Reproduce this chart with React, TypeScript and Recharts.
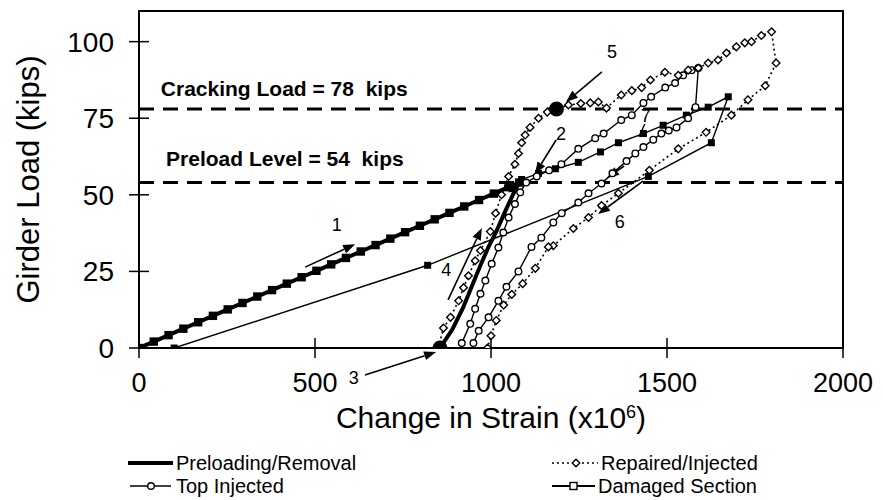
import React from "react";
import {
  ComposedChart,
  Scatter,
  XAxis,
  YAxis,
  ReferenceLine,
  ReferenceArea,
  ReferenceDot,
  Legend,
  Label,
} from "recharts";

const FONT = "'Liberation Sans', Arial, Helvetica, sans-serif";

const xTicks = [0, 500, 1000, 1500, 2000];
const yTicks = [0, 25, 50, 75, 100];

// preloading up to 54 kips (markers on the loading branch)
const preloadStrain = [0, 42, 84, 126, 168, 210, 252, 294, 336, 378, 420, 462, 504, 546, 588, 630, 672, 714, 756, 798, 840, 882, 924, 966, 1008, 1050, 1080];
const preloadLoad = [0, 2.1, 4.2, 6.3, 8.4, 10.5, 12.6, 14.7, 16.8, 18.9, 21, 23.1, 25.2, 27.3, 29.4, 31.5, 33.6, 35.7, 37.8, 39.9, 42, 44.1, 46.2, 48.3, 50.4, 52.5, 54];

// removal of preload
const removalStrain = [1080, 1062, 1040, 1015, 993, 970, 945, 920, 890, 855];
const removalLoad = [54, 50, 44.5, 38, 33, 27, 20, 13, 6, 0];

// repaired / injected
const repairedStrain = [850, 865, 885, 908, 922, 936, 955, 970, 998, 1013, 1030, 1050, 1068, 1078, 1087, 1097, 1111, 1135, 1160, 1186, 1220, 1255, 1282, 1305, 1328, 1370, 1400, 1428, 1453, 1494, 1532, 1560, 1589, 1617, 1645, 1669, 1697, 1721, 1740, 1768, 1797, 1810, 1779, 1730, 1683, 1611, 1532, 1450, 1362, 1314, 1277, 1234, 1177, 1163, 1126, 1090, 1059, 1036, 1015, 1000, 990];
const repairedLoad = [0, 6.5, 10, 15.4, 19.7, 23.6, 28.5, 31.8, 38, 44, 50, 56, 60, 63.5, 67, 69.5, 72, 75, 77, 78, 79.3, 79.8, 80, 80.3, 78.3, 82.6, 84, 85, 87.5, 90, 89, 90.7, 91.4, 93, 94, 96.3, 98.3, 99.6, 100, 102, 103.2, 93, 85.6, 81, 76, 70.4, 65, 58, 50.5, 46.5, 42.6, 39, 33.4, 33, 26, 21, 17.5, 14, 9, 4, 0];

// top injected
const topStrain = [917, 941, 955, 970, 984, 1002, 1021, 1035, 1050, 1068, 1083, 1100, 1130, 1165, 1200, 1248, 1296, 1320, 1370, 1400, 1433, 1455, 1495, 1523, 1546, 1570, 1589, 1581, 1560, 1527, 1505, 1484, 1461, 1433, 1410, 1385, 1345, 1314, 1277, 1248, 1201, 1177, 1143, 1115, 1078, 1044, 1021, 993, 965, 950];
const topLoad = [1.6, 7.9, 12.8, 17.7, 22, 27.5, 32.8, 37.7, 42.6, 47, 50.8, 54, 56, 58, 60, 65, 68.5, 70, 74.4, 76, 80, 82, 85, 86.5, 89, 90.7, 91.4, 78.6, 75, 72, 71, 70, 68, 65.6, 63.5, 61, 57, 53.7, 50.5, 47.5, 44, 41, 36, 33, 25, 20, 15.4, 10, 5.6, 1.6];

// damaged section
const damagedStrain = [1060, 1087, 1135, 1183, 1248, 1311, 1362, 1433, 1489, 1555, 1617, 1674, 1626, 1447, 820, 100];
const damagedLoad = [52, 55, 57, 58.5, 60.6, 64, 67, 70, 72.7, 76, 78.6, 82, 67, 56, 27, 0];

// end of preload removal and first cracking
const keyStrain = [855, 1186];
const keyLoad = [0, 78];

const crackingLoad = 78;
const preloadLevel = 54;

const arrows = [
  { n: "1", from: [472, 26.4], to: [614, 33.9], at: [562, 40.1] },
  { n: "2", from: [1185, 67.9], to: [1125, 56.8], at: [1199, 70] },
  { n: "3", from: [642, -8.8], to: [844, -1.3], at: [610, -9.8] },
  { n: "4", from: [878, 15.7], to: [974, 39.2], at: [873, 25.5] },
  { n: "5", from: [1315, 90.1], to: [1213, 80.3], at: [1344, 96.6] },
  { n: "6", from: [1432, 54.5], to: [1304, 43.7], at: [1366, 41.1] },
  { n: "", from: [1378, 59.4], to: [1330, 55.5], at: [1378, 59.4] },
];

const pts = (xs: number[], ys: number[]) => xs.map((x, i) => ({ x, y: ys[i] }));

const FilledSquare = (p: any) => (
  <rect x={p.cx - 3.5} y={p.cy - 3.5} width={7} height={7} fill="#000" />
);
const BigSquare = (p: any) => (
  <rect x={p.cx - 4.2} y={p.cy - 4.2} width={8.4} height={8.4} fill="#000" />
);
const OpenCircle = (p: any) => (
  <circle cx={p.cx} cy={p.cy} r={3.3} fill="#fff" stroke="#000" strokeWidth={1.4} />
);
const OpenDiamond = (p: any) => (
  <path
    d={`M${p.cx},${p.cy - 3.8}L${p.cx + 3.8},${p.cy}L${p.cx},${p.cy + 3.8}L${p.cx - 3.8},${p.cy}Z`}
    fill="#fff"
    stroke="#000"
    strokeWidth={1.4}
  />
);
const NoMark = () => <g />;
const BigDot = (p: any) => <circle cx={p.cx} cy={p.cy} r={7.5} fill="#000" />;

const Arrow = (p: any) => {
  const { x1, y1, x2, y2 } = p;
  const a = Math.atan2(y2 - y1, x2 - x1);
  const L = 12;
  const W = 4.5;
  const bx = x2 - L * Math.cos(a);
  const by = y2 - L * Math.sin(a);
  const px = -Math.sin(a) * W;
  const py = Math.cos(a) * W;
  return (
    <g>
      <line x1={x1} y1={y1} x2={bx} y2={by} stroke="#000" strokeWidth={1.6} />
      <path d={`M${x2},${y2}L${bx + px},${by + py}L${bx - px},${by - py}Z`} fill="#000" />
    </g>
  );
};

const XTick = ({ x, y, payload }: any) => (
  <g>
    <line x1={x} x2={x} y1={y - 10} y2={y + 10} stroke="#000" strokeWidth={1.5} />
    <text x={x} y={y + 44} textAnchor="middle" fontSize={27} fontFamily={FONT} fill="#000">
      {payload.value}
    </text>
  </g>
);

const YTick = ({ x, y, payload }: any) => (
  <g>
    <line x1={x - 10} x2={x + 10} y1={y} y2={y} stroke="#000" strokeWidth={1.5} />
    <text x={x - 25} y={y + 10} textAnchor="end" fontSize={28} fontFamily={FONT} fill="#000">
      {payload.value}
    </text>
  </g>
);

const XTitle = ({ viewBox }: any) => (
  <text
    x={viewBox.x + viewBox.width / 2}
    y={viewBox.y + 80}
    textAnchor="middle"
    fontSize={30}
    fontFamily={FONT}
    fill="#000"
  >
    Change in Strain (x10
    <tspan dy={-10} fontSize={18}>6</tspan>
    <tspan dy={10}>)</tspan>
  </text>
);

const YTitle = ({ viewBox }: any) => {
  const cx = viewBox.x + 28;
  const cy = viewBox.y + viewBox.height / 2;
  return (
    <text
      x={cx}
      y={cy}
      transform={`rotate(-90 ${cx} ${cy})`}
      textAnchor="middle"
      dominantBaseline="central"
      fontSize={31}
      fontFamily={FONT}
      fill="#000"
    >
      Girder Load (kips)
    </text>
  );
};

const Note = (text: string, size: number, bold: boolean) => (p: any) => (
  <text
    x={p.cx}
    y={p.cy}
    fontSize={size}
    fontWeight={bold ? 700 : 400}
    fontFamily={FONT}
    fill="#000"
    style={{ whiteSpace: "pre" }}
    textAnchor={bold ? "start" : "middle"}
    dominantBaseline={bold ? "auto" : "central"}
  >
    {text}
  </text>
);

const LegendBox = () => (
  <svg width={883} height={52} style={{ display: "block" }}>
    <g fontFamily={FONT} fontSize={20} fill="#000">
      <line x1={128} x2={173} y1={15} y2={15} stroke="#000" strokeWidth={4} />
      <text x={176} y={22}>Preloading/Removal</text>
      <line x1={130} x2={171} y1={38} y2={38} stroke="#000" strokeWidth={1.5} />
      <OpenCircle cx={151} cy={38} />
      <text x={176} y={45}>Top Injected</text>
      <line x1={552} x2={598} y1={15} y2={15} stroke="#000" strokeWidth={1.5} strokeDasharray="2 3" />
      <OpenDiamond cx={576} cy={15} />
      <text x={601} y={22}>Repaired/Injected</text>
      <line x1={552} x2={595} y1={38} y2={38} stroke="#000" strokeWidth={2} />
      <rect x={570} y={34.5} width={7} height={7} fill="#fff" stroke="#000" strokeWidth={1.4} />
      <text x={598} y={45}>Damaged Section</text>
    </g>
  </svg>
);

export default function App() {
  return (
    <div style={{ position: "absolute", left: 0, top: 0, width: 883, height: 500, background: "#fff" }}>
      <ComposedChart width={883} height={500} margin={{ top: 11, right: 40, bottom: 92, left: 0 }}>
        <XAxis
          type="number"
          dataKey="x"
          domain={[0, 2000]}
          ticks={xTicks}
          interval={0}
          allowDataOverflow
          height={60}
          tickSize={0}
          tickMargin={0}
          tick={XTick}
          axisLine={{ stroke: "#000", strokeWidth: 2 }}
        >
          <Label content={XTitle} />
        </XAxis>
        <YAxis
          type="number"
          dataKey="y"
          domain={[0, 110]}
          ticks={yTicks}
          interval={0}
          allowDataOverflow
          width={139}
          tickSize={0}
          tickMargin={0}
          tick={YTick}
          axisLine={{ stroke: "#000", strokeWidth: 2 }}
        >
          <Label content={YTitle} />
        </YAxis>

        <ReferenceArea x1={0} x2={2000} y1={0} y2={110} fill="none" stroke="#000" strokeWidth={2} ifOverflow="visible" />
        <ReferenceLine y={crackingLoad} stroke="#000" strokeWidth={3} strokeDasharray="15 9" />
        <ReferenceLine y={preloadLevel} stroke="#000" strokeWidth={3} strokeDasharray="15 9" />
        <ReferenceDot x={62} y={82.2} ifOverflow="visible" shape={Note("Cracking Load = 78  kips", 21, true)} />
        <ReferenceDot x={77} y={59.3} ifOverflow="visible" shape={Note("Preload Level = 54  kips", 21, true)} />

        <Scatter
          data={pts(damagedStrain, damagedLoad)}
          fill="#000"
          line={{ stroke: "#000", strokeWidth: 1.4 }}
          lineType="joint"
          shape={FilledSquare}
          isAnimationActive={false}
        />
        <Scatter
          data={pts(topStrain, topLoad)}
          fill="#000"
          line={{ stroke: "#000", strokeWidth: 1.4 }}
          lineType="joint"
          shape={OpenCircle}
          isAnimationActive={false}
        />
        <Scatter
          data={pts(repairedStrain, repairedLoad)}
          fill="#000"
          line={{ stroke: "#000", strokeWidth: 1.6, strokeDasharray: "2 3" }}
          lineType="joint"
          shape={OpenDiamond}
          isAnimationActive={false}
        />
        <Scatter
          data={pts(removalStrain, removalLoad)}
          fill="#000"
          line={{ stroke: "#000", strokeWidth: 4 }}
          lineType="joint"
          shape={NoMark}
          isAnimationActive={false}
        />
        <Scatter
          data={pts(preloadStrain, preloadLoad)}
          fill="#000"
          line={{ stroke: "#000", strokeWidth: 4 }}
          lineType="joint"
          shape={BigSquare}
          isAnimationActive={false}
        />
        <Scatter data={pts(keyStrain, keyLoad)} fill="#000" shape={BigDot} isAnimationActive={false} />

        {arrows.map((a, i) => (
          <ReferenceLine
            key={"a" + i}
            segment={[{ x: a.from[0], y: a.from[1] }, { x: a.to[0], y: a.to[1] }]}
            ifOverflow="visible"
            shape={Arrow}
          />
        ))}
        {arrows
          .filter((a) => a.n)
          .map((a, i) => (
            <ReferenceDot key={"n" + i} x={a.at[0]} y={a.at[1]} ifOverflow="visible" shape={Note(a.n, 18, false)} />
          ))}
        <ReferenceLine
          segment={[{ x: 1437, y: 73.1 }, { x: 1420, y: 68.9 }]}
          stroke="#000"
          strokeWidth={1.4}
        />
        <ReferenceDot x={1440} y={75.8} ifOverflow="visible" shape={Note("7", 18, false)} />

        <Legend
          layout="vertical"
          align="center"
          verticalAlign="middle"
          content={LegendBox}
          wrapperStyle={{ top: 448, left: 0, width: 883 }}
        />
      </ComposedChart>
    </div>
  );
}
